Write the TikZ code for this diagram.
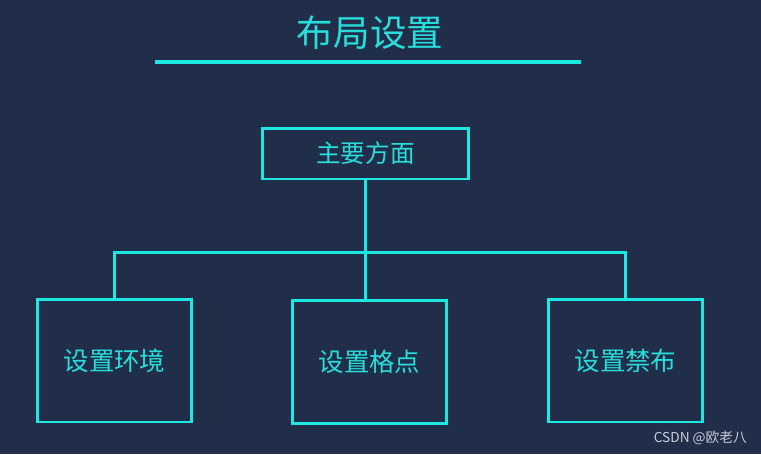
\documentclass[tikz,border=0pt]{standalone}
\usepackage{fontspec}
\setmainfont{Noto Sans CJK SC}
\usepackage{tikz}
\usetikzlibrary{positioning, calc, backgrounds}
\definecolor{bgnavy}{RGB}{33,46,74}
\definecolor{linecyan}{RGB}{30,232,228}
\definecolor{txtcyan}{RGB}{40,222,220}
\definecolor{markgray}{RGB}{200,204,212}
\tikzset{
  topbox/.style={draw=linecyan, line width=1.7pt, minimum width=4.14cm, minimum height=1.02cm,
    text=txtcyan, font=\fontsize{14}{16}\selectfont},
  leafbox/.style={draw=linecyan, line width=1.7pt, minimum width=3.08cm, minimum height=2.46cm,
    text=txtcyan, font=\fontsize{14.5}{16}\selectfont},
  link/.style={draw=linecyan, line width=1.7pt}
}
\begin{document}
\begin{tikzpicture}[x=0.02cm, y=-0.02cm]
      \fill[bgnavy] (0,0) rectangle (761,454);
      \useasboundingbox (0,0) rectangle (761,454);
      % title
      \node[text=txtcyan, font=\fontsize{20.8}{24}\selectfont] (title) at (370,33) {布局设置};
      \coordinate (ruleL) at (155,62);
      \coordinate (ruleR) at (581,62);
      \draw[linecyan, line width=2.3pt] (ruleL) -- (ruleR);

      \node[topbox] (main) at (365.5,153.5) {主要方面};
      \node[leafbox] (env) at (114.5,360.5) {设置环境};
      \node[leafbox] (grid) at (369.5,362) {设置格点};
      \node[leafbox] (ban) at (625.5,360.5) {设置禁布};

      \coordinate (bus) at (366,252);
      \draw[link] (main.south) -- (main.south |- grid.north);
      \draw[link] (env.north) -- (env.north |- bus) -- (ban.north |- bus) -- (ban.north);

      \node[text=markgray, font=\fontsize{7.8}{9}\selectfont, anchor=east] (mark) at (753,438) {CSDN @欧老八};
\end{tikzpicture}
\end{document}
